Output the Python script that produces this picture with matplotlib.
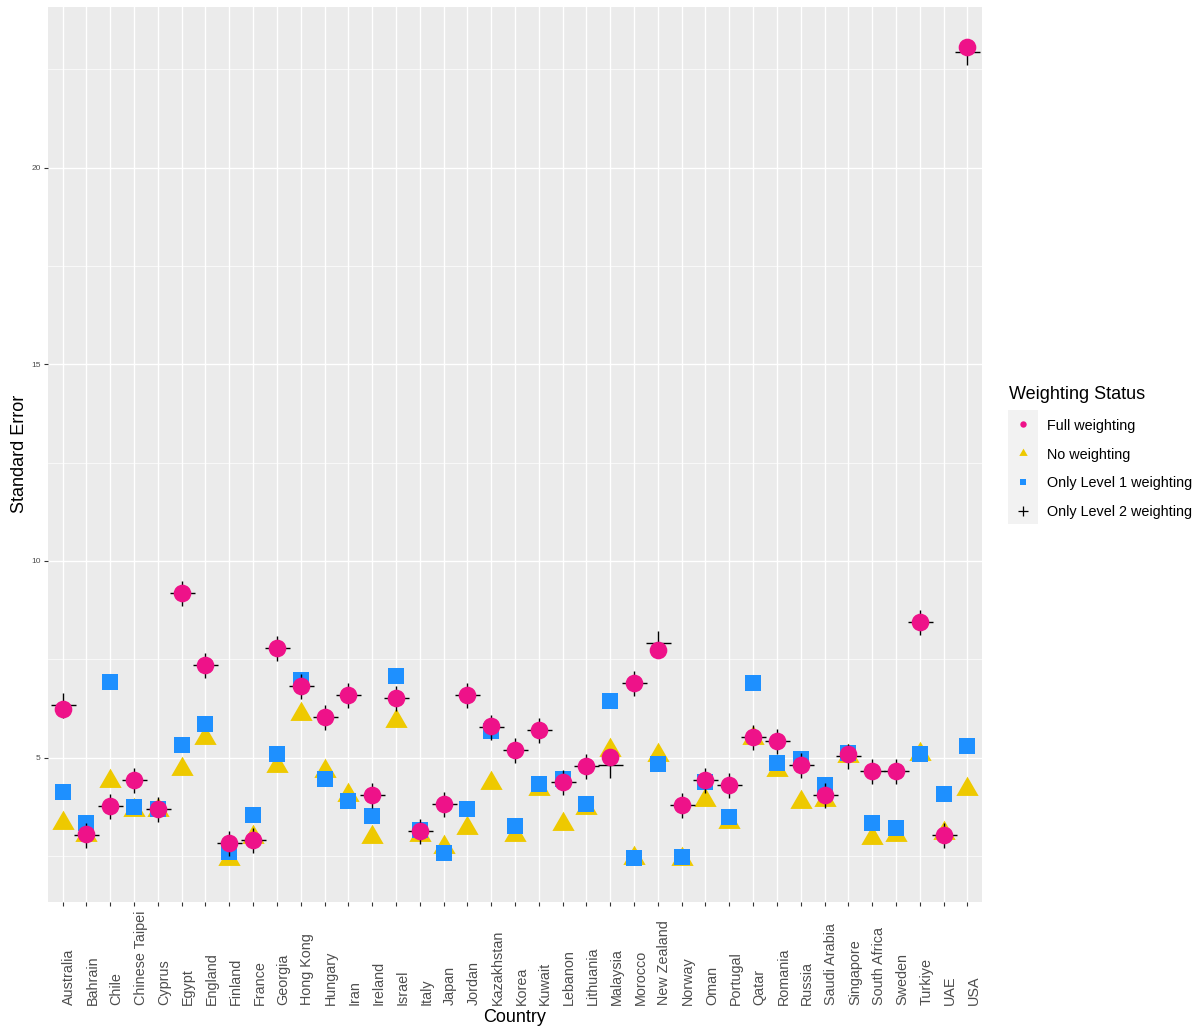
import matplotlib
matplotlib.use("Agg")
import matplotlib.pyplot as plt
import matplotlib.transforms as mtransforms
from matplotlib.lines import Line2D
from matplotlib.patches import Rectangle

plt.rcParams['font.family'] = ['Liberation Sans', 'DejaVu Sans']

countries = ["Australia", "Bahrain", "Chile", "Chinese Taipei", "Cyprus", "Egypt",
             "England", "Finland", "France", "Georgia", "Hong Kong", "Hungary", "Iran",
             "Ireland", "Israel", "Italy", "Japan", "Jordan", "Kazakhstan", "Korea",
             "Kuwait", "Lebanon", "Lithuania", "Malaysia", "Morocco", "New Zealand",
             "Norway", "Oman", "Portugal", "Qatar", "Romania", "Russia", "Saudi Arabia",
             "Singapore", "South Africa", "Sweden", "Turkiye", "UAE", "USA"]

full_w = [6.24, 3.05, 3.76, 4.42, 3.69, 9.19, 7.35, 2.84, 2.92, 7.78, 6.82, 6.03, 6.59,
          4.05, 6.52, 3.14, 3.81, 6.59, 5.80, 5.19, 5.70, 4.37, 4.80, 5.01, 6.89, 7.73,
          3.79, 4.42, 4.30, 5.52, 5.42, 4.81, 4.05, 5.10, 4.66, 4.66, 8.46, 3.03, 23.07]
no_w = [3.35, 3.03, 4.41, 3.66, 3.67, 4.71, 5.50, 2.43, 2.98, 4.79, 6.10, 4.66, 4.06,
        2.98, 5.94, 3.03, 2.73, 3.20, 4.36, 3.04, 4.21, 3.31, 3.71, 5.19, 2.45, 5.07,
        2.42, 3.93, 3.36, 5.50, 4.68, 3.87, 3.92, 5.04, 2.97, 3.04, 5.10, 3.09, 4.21]
lvl1_w = [4.12, 3.35, 6.92, 3.75, 3.70, 5.31, 5.85, 2.61, 3.55, 5.09, 6.98, 4.46, 3.90,
          3.52, 7.08, 3.16, 2.57, 3.70, 5.69, 3.26, 4.34, 4.47, 3.81, 6.44, 2.44, 4.84,
          2.47, 4.37, 3.48, 6.90, 4.86, 4.96, 4.31, 5.11, 3.35, 3.20, 5.09, 4.07, 5.30]
lvl2_w = [6.35, 3.04, 3.76, 4.42, 3.69, 9.19, 7.35, 2.84, 2.92, 7.78, 6.82, 6.03, 6.59,
          4.05, 6.52, 3.14, 3.81, 6.59, 5.78, 5.19, 5.70, 4.37, 4.80, 4.81, 6.89, 7.92,
          3.79, 4.42, 4.30, 5.52, 5.42, 4.81, 4.05, 5.04, 4.66, 4.66, 8.46, 3.03, 22.94]

PINK = "#EE1289"
GOLD = "#EEC900"
BLUE = "#1E90FF"
TXT = "#4D4D4D"

# R-style triangle (centroid at the point)
TRI = [(0, 1.5551), (1.3468, -0.7776), (-1.3468, -0.7776), (0, 1.5551)]

W, H = 1201, 1028
fig = plt.figure(figsize=(W / 100, H / 100), dpi=100)
ax = fig.add_axes([48.3 / W, 1 - 901.7 / H, (981.7 - 48.3) / W, (901.7 - 6.7) / H])
ax.set_facecolor("#EBEBEB")
for s in ax.spines.values():
    s.set_visible(False)

x = list(range(len(countries)))
ax.plot(x, no_w, linestyle="none", marker=TRI, ms=18.5, mew=0, color=GOLD, zorder=3)
ax.plot(x, lvl1_w, linestyle="none", marker="s", ms=12.0, mew=0, color=BLUE, zorder=4)
ax.plot(x, lvl2_w, linestyle="none", marker="+", ms=18, mew=1.0, color="black", zorder=5)
ax.plot(x, full_w, linestyle="none", marker="o", ms=12.7, mew=0, color=PINK, zorder=6)

ax.set_xlim(-0.6, len(countries) - 1 + 0.6)
ax.set_ylim(1.339, 24.09)
ax.set_xticks(x)
ax.set_xticklabels([])
ax.set_yticks([5, 10, 15, 20])
ax.set_yticklabels(["5", "10", "15", "20"])
ax.set_yticks([2.5, 7.5, 12.5, 17.5, 22.5], minor=True)
ax.grid(which="major", color="white", lw=1.0, zorder=0)
ax.grid(which="minor", axis="y", color="white", lw=0.5, zorder=0)
ax.set_axisbelow(True)
ax.tick_params(axis="y", which="major", length=2.7, width=0.8, color="#333333",
               labelsize=6, labelcolor=TXT, pad=2.8)
ax.tick_params(axis="y", which="minor", length=0)
ax.tick_params(axis="x", length=2.7, width=0.8, color="#333333")

# rotated country labels, starting at a common bottom line
trans = mtransforms.blended_transform_factory(ax.transData, fig.transFigure)
for i, c in enumerate(countries):
    ax.text(i - 0.02, 1 - 1005 / H, c, transform=trans, rotation=90,
            rotation_mode="anchor", ha="left", va="top", fontsize=10.4, color=TXT)

fig.text(515 / W, 1 - 1021.5 / H, "Country", ha="center", va="baseline", fontsize=13)
fig.text(24 / W, 1 - 454.2 / H, "Standard Error", ha="center", va="baseline",
         rotation=90, rotation_mode="anchor", fontsize=13)

# legend
fig.text(1009.3 / W, 1 - 399.3 / H, "Weighting Status", ha="left", va="baseline", fontsize=13)
fig.add_artist(Rectangle((1008.3 / W, 1 - 524 / H), 29.4 / W, 114 / H,
                         transform=fig.transFigure, facecolor="#F2F2F2", edgecolor="none"))
labels = ["Full weighting", "No weighting", "Only Level 1 weighting", "Only Level 2 weighting"]
keys = [("o", 4.6, PINK, 0), (TRI, 7.0, GOLD, 0), ("s", 4.4, BLUE, 0), ("+", 7.0, "black", 0.9)]
centers = [424, 452.5, 481.5, 510.5]
baselines = [430, 458.5, 487.5, 516.3]
for lab, (mk, ms, col, mew), yc, yb in zip(labels, keys, centers, baselines):
    fig.add_artist(Line2D([1023 / W], [1 - yc / H], marker=mk, ms=ms, mew=mew, color=col,
                          linestyle="none", transform=fig.transFigure))
    fig.text(1047.3 / W, 1 - yb / H, lab, ha="left", va="baseline", fontsize=10.4)

fig.savefig("out.png", dpi=100)
